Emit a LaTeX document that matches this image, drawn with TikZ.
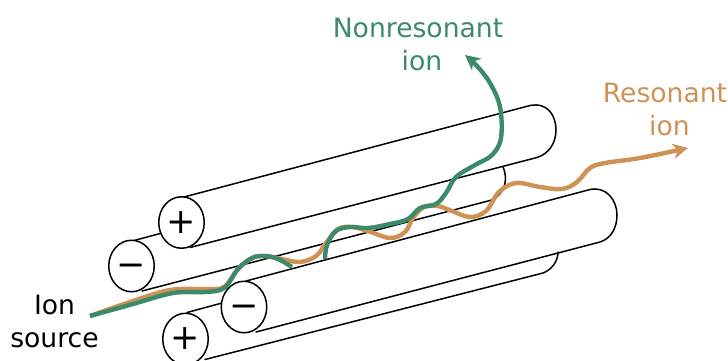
\documentclass[tikz,border=0pt]{standalone}
\usepackage{fontspec}
\setmainfont{DejaVu Sans}
\usetikzlibrary{arrows.meta,shapes.geometric}
\definecolor{ionGreen}{HTML}{3B8B6A}
\definecolor{ionOrange}{HTML}{CF9255}
\tikzset{
  rodend/.style={ellipse,draw=black,fill=white,line width=1.5pt,minimum width=45.5pt,minimum height=51.5pt,inner sep=0pt,font=\fontsize{35}{35}\selectfont},
  rodline/.style={draw=black,line width=1.5pt,line cap=round},
  label/.style={align=center,font=\fontsize{26.6}{33}\selectfont},
  greenpath/.style={draw=ionGreen,line width=4.4pt,line join=round},
  orangepath/.style={draw=ionOrange,line width=4.4pt,line join=round},
  ionTip/.style={-{Stealth[length=15pt,width=15pt,inset=4.5pt]}}
}
\begin{document}
\begin{tikzpicture}[x=1pt,y=-1pt]
\useasboundingbox (0,0) rectangle (728,360);
\fill[white] (0,0) rectangle (728,360);
% end coordinates of rods
\coordinate (pbT) at (184,197);
\coordinate (pbB) at (190,247.5);
\coordinate (mbT) at (134,240.5);
\coordinate (mbB) at (142,291);
\coordinate (mfT) at (246,281);
\coordinate (mfB) at (256,332);
\coordinate (pfT) at (187,312.5);
\coordinate (pfB) at (205,359.5);
% back rods
\draw[rodline] (mbB) -- (490,200.5) .. controls (501,197) and (510,184) .. (503,167);
\draw[rodline] (pfB) -- (543,273) .. controls (551,270) and (558,262) .. (558,252);
\draw[rodline] (mbT) -- (162,233);
\draw[rodline] (pbT) -- (530,105.5) .. controls (548,102) and (556,116) .. (556,130) .. controls (556,144) and (548,154) .. (537,157.5) -- (pbB);
\draw[rodline] (pfT) -- (222,303);
\draw[rodline] (mfT) -- (590,189.5) .. controls (606,186) and (617,200) .. (617,215) .. controls (617,229) and (610,239) .. (600,242) -- (mfB);
% rod ends
\node[rodend] (pb) at (181.5,222.5) {+};
\node[rodend] (mb) at (131.5,266) {\vphantom{+}−};
\node[rodend] (pf) at (185.5,339) {+};
\node[rodend] (mf) at (244,307) {\vphantom{+}−};
% labels
\node[label,text=black] (src) at (54.5,321.5) {Ion\\source};
\node[label,text=ionGreen] (nr) at (418,44.5) {Nonresonant\\\hspace*{8pt}ion};
\node[label,text=ionOrange] (rs) at (665,109) {Resonant\\\hspace*{9pt}ion};
% ion paths
\coordinate (start) at (90,316);
\coordinate (greenEnd) at (465,55);
\coordinate (orangeEnd) at (688,148);
\draw[orangepath,ionTip] plot[smooth,tension=0.6] coordinates {(start) (130,302) (170,290) (205,289) (224,287) (238,269) (252,258) (265,256) (282,259) (300,262) (316,256) (326,243) (338,229) (352,227) (368,231) (390,238) (405,232) (413,218) (424,207) (438,206) (452,211) (470,217) (486,211) (499,192) (516,183) (540,187) (562,189) (577,182) (590,168) (605,163) (640,158) (orangeEnd)};
\draw[greenpath] plot[smooth,tension=0.6] coordinates {(start) (133,304) (173,293) (205,292) (224,288) (238,269) (252,258) (265,256) (278,259) (292,267)};
\draw[greenpath,ionTip] plot[smooth,tension=0.6] coordinates {(325,259) (327,245) (336,231) (350,227) (368,228) (390,224) (408,219) (420,208) (436,204) (446,193) (456,177) (475,165) (492,155) (501,138) (500,107) (490,83) (477,66) (greenEnd)};
\end{tikzpicture}
\end{document}
